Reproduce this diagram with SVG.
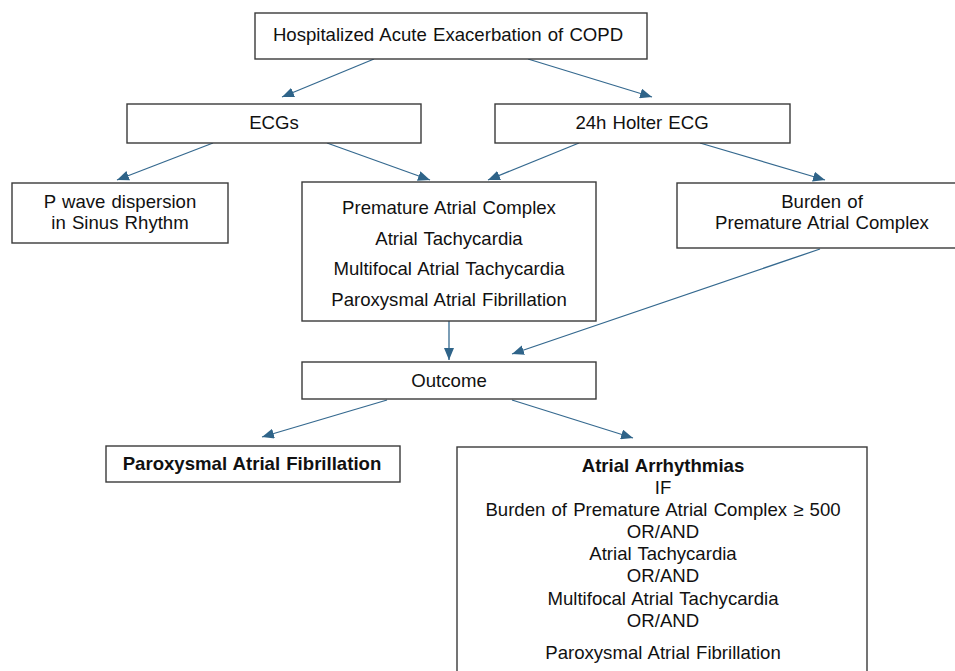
<svg xmlns="http://www.w3.org/2000/svg" width="955" height="671" viewBox="0 0 955 671">
<style>
  .box { fill: #ffffff; stroke: #3a3a3a; stroke-width: 1.4; }
  .t { font-family: "Liberation Sans", Arial, sans-serif; font-size: 18.6px; fill: #111111; text-anchor: middle; word-spacing: 1px; }
  .b { font-weight: bold; }
  .c { stroke: #35698f; stroke-width: 1.3; fill: none; marker-end: url(#ah); }
</style>
<defs>
  <marker id="ah" viewBox="0 0 12 10" refX="12" refY="5" markerWidth="12" markerHeight="10" markerUnits="userSpaceOnUse" orient="auto">
    <path d="M0,0 L12,5 L0,10 Z" fill="#2f6489"/>
  </marker>
</defs>
<rect width="955" height="671" fill="#ffffff"/>

<g id="connectors">
  <line class="c" x1="374" y1="59" x2="282" y2="97"/>
  <line class="c" x1="528" y1="59" x2="652" y2="97"/>
  <line class="c" x1="213" y1="143" x2="117" y2="180"/>
  <line class="c" x1="327" y1="143" x2="430" y2="180"/>
  <line class="c" x1="579" y1="143" x2="488" y2="180"/>
  <line class="c" x1="700" y1="143" x2="825" y2="180"/>
  <line class="c" x1="449" y1="321" x2="449" y2="360"/>
  <line class="c" x1="820" y1="249" x2="512" y2="354"/>
  <line class="c" x1="387" y1="400" x2="262" y2="437"/>
  <line class="c" x1="512" y1="400" x2="633" y2="438"/>
</g>

<g id="node-copd">
  <rect class="box" x="255" y="13" width="392" height="46"/>
  <text class="t" x="448" y="41">Hospitalized Acute Exacerbation of COPD</text>
</g>

<g id="node-ecgs">
  <rect class="box" x="127" y="104" width="294" height="39"/>
  <text class="t" x="274" y="129">ECGs</text>
</g>

<g id="node-holter">
  <rect class="box" x="495" y="104" width="295" height="39"/>
  <text class="t" x="642" y="129">24h Holter ECG</text>
</g>

<g id="node-pwave">
  <rect class="box" x="12" y="183" width="216" height="60"/>
  <text class="t" x="120" y="208">P wave dispersion</text>
  <text class="t" x="120" y="229">in Sinus Rhythm</text>
</g>

<g id="node-arrhythmias">
  <rect class="box" x="302" y="182" width="294" height="139"/>
  <text class="t" x="449" y="214">Premature Atrial Complex</text>
  <text class="t" x="449" y="244.5">Atrial Tachycardia</text>
  <text class="t" x="449" y="275">Multifocal Atrial Tachycardia</text>
  <text class="t" x="449" y="305.5">Paroxysmal Atrial Fibrillation</text>
</g>

<g id="node-burden">
  <rect class="box" x="677" y="183" width="290" height="65"/>
  <text class="t" x="822" y="208">Burden of</text>
  <text class="t" x="822" y="229">Premature Atrial Complex</text>
</g>

<g id="node-outcome">
  <rect class="box" x="302" y="362" width="294" height="37"/>
  <text class="t" x="449" y="387">Outcome</text>
</g>

<g id="node-paf">
  <rect class="box" x="106" y="446" width="294" height="36"/>
  <text class="t b" x="252" y="470">Paroxysmal Atrial Fibrillation</text>
</g>

<g id="node-atrial-arrhythmias">
  <rect class="box" x="457" y="447" width="410" height="240"/>
  <text class="t b" x="663" y="472">Atrial Arrhythmias</text>
  <text class="t" x="663" y="494">IF</text>
  <text class="t" x="663" y="516">Burden of Premature Atrial Complex ≥ 500</text>
  <text class="t" x="663" y="538">OR/AND</text>
  <text class="t" x="663" y="560">Atrial Tachycardia</text>
  <text class="t" x="663" y="582">OR/AND</text>
  <text class="t" x="663" y="605">Multifocal Atrial Tachycardia</text>
  <text class="t" x="663" y="627">OR/AND</text>
  <text class="t" x="663" y="659">Paroxysmal Atrial Fibrillation</text>
</g>
</svg>
